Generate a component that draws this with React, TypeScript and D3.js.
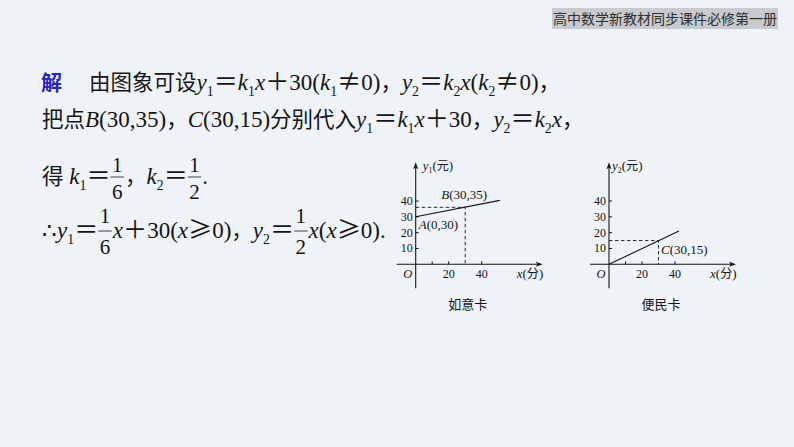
import React, { useRef, useEffect } from 'react';
import * as d3 from 'd3';

// header tag
const headerText = '高中数学新教材同步课件必修第一册';

// solution text; "_" marks a subscript, objects are stacked fractions
type Frac = { num: string; den: string };
type Piece = string | Frac;

const answerMark = '解';
const solutionLines: Piece[][] = [
  ['由图象可设y_1＝k_1x＋30(k_1≠0)，y_2＝k_2x(k_2≠0)，'],
  ['把点B(30,35)，C(30,15)分别代入y_1＝k_1x＋30，y_2＝k_2x，'],
  ['得 k_1＝', { num: '1', den: '6' }, '，k_2＝', { num: '1', den: '2' }, '.'],
  ['∴y_1＝', { num: '1', den: '6' }, 'x＋30(x≥0)，y_2＝', { num: '1', den: '2' }, 'x(x≥0).'],
];

// the two graphs
const cardNames = ['如意卡', '便民卡'];
const yAxisTitles = ['y_1(元)', 'y_2(元)'];
const xAxisTitle = 'x(分)';
const yTicks = [10, 20, 30, 40];
const xTickMarks = [10, 20, 40];
const xTickLabels = [20, 40];
const ruyiLine: [number, number][] = [[0, 30], [51, 40.4]];
const bianminLine: [number, number][] = [[0, 0], [42.4, 21]];
const ruyiGuide = { x: 30, y: 36 };
const bianminGuide = { x: 30, y: 15 };
const ruyiLabels = [
  { text: 'A(0,30)', x: 0, y: 30 },
  { text: 'B(30,35)', x: 30, y: 35 },
];
const bianminLabels = [{ text: 'C(30,15)', x: 30, y: 15 }];

const W = 794;
const H = 447;
const SERIF = '"Liberation Serif", "Times New Roman", serif';
const CJK = '"Noto Sans CJK SC", "Noto Sans", sans-serif';
const INK = '#141414';

type Kind = 'cjk' | 'op' | 'it' | 'rm' | 'sub';
type Run = { t: string; k: Kind };

// fullwidth operators as the slide typesets them
const OPS = '＝＋≠≥';

function tokenize(s: string): Run[] {
  const runs: Run[] = [];
  for (let i = 0; i < s.length; i++) {
    let ch = s[i];
    let k: Kind;
    if (ch === '_') {
      ch = s[++i];
      k = 'sub';
    } else if (OPS.includes(ch)) k = 'op';
    else if (ch.charCodeAt(0) >= 0x2e80) k = 'cjk';
    else if (/[A-Za-z]/.test(ch)) k = 'it';
    else k = 'rm';
    if (ch === ' ') ch = '\u00a0';
    const last = runs[runs.length - 1];
    if (last && last.k === k) last.t += ch;
    else runs.push({ t: ch, k });
  }
  return runs;
}

// size: latin size; cjk text scaled a bit smaller, operators a bit wider
function writeRuns(g: any, x: number, y: number, s: string, size: number, color = INK) {
  const sizes: Record<Kind, number> = {
    cjk: size * 0.935,
    op: size * 1.05,
    it: size,
    rm: size,
    sub: size * 0.6,
  };
  tokenize(s).forEach(r => {
    const t = g.append('text')
      .attr('x', x)
      .attr('y', r.k === 'sub' ? y + size * 0.24 : y)
      .attr('font-family', r.k === 'cjk' || r.k === 'op' ? CJK : SERIF)
      .attr('font-size', sizes[r.k])
      .attr('font-style', r.k === 'it' ? 'italic' : 'normal')
      .attr('fill', color)
      .text(r.t);
    x += (t.node() as SVGTextElement).getComputedTextLength();
  });
  return x;
}

function writeFrac(g: any, x: number, y: number, f: Frac, size: number, up: number, down: number) {
  const mk = (s: string, yy: number) =>
    g.append('text')
      .attr('y', yy)
      .attr('font-family', SERIF)
      .attr('font-size', size)
      .attr('text-anchor', 'middle')
      .attr('fill', INK)
      .text(s);
  const n = mk(f.num, y - up);
  const d = mk(f.den, y + down);
  const w = Math.max(n.node().getComputedTextLength(), d.node().getComputedTextLength()) + 3;
  n.attr('x', x + w / 2);
  d.attr('x', x + w / 2);
  g.append('line')
    .attr('x1', x).attr('x2', x + w)
    .attr('y1', y - 7).attr('y2', y - 7)
    .attr('stroke', INK).attr('stroke-width', 0.8);
  return x + w + 1;
}

const App: React.FC = () => {
  const svgRef = useRef<SVGSVGElement | null>(null);

  useEffect(() => {
    const svg = d3.select(svgRef.current);
    svg.selectAll('*').remove();

    svg.append('rect').attr('width', W).attr('height', H).attr('fill', '#eff3f7');

    // header tag
    svg.append('rect')
      .attr('x', 552).attr('y', 8).attr('width', 226).attr('height', 21)
      .attr('fill', '#c8cacd');
    svg.append('text')
      .attr('x', 665).attr('y', 24)
      .attr('text-anchor', 'middle')
      .attr('font-family', CJK).attr('font-size', 14)
      .attr('fill', '#2e2e2e')
      .text(headerText);

    // solution text
    const txt = svg.append('g');
    txt.append('text')
      .attr('x', 41).attr('y', 90)
      .attr('font-family', CJK).attr('font-size', 21).attr('font-weight', 'bold')
      .attr('fill', '#2424c8')
      .text(answerMark);

    const lineLayout = [
      { x: 89, y: 90, up: 12, down: 15 },
      { x: 42, y: 127, up: 12, down: 15 },
      { x: 42, y: 184, up: 12, down: 15 },
      { x: 42, y: 238, up: 15, down: 16 },
    ];
    solutionLines.forEach((pieces, i) => {
      const L = lineLayout[i];
      let x = L.x;
      pieces.forEach(p => {
        x = typeof p === 'string'
          ? writeRuns(txt, x, L.y, p, 23)
          : writeFrac(txt, x, L.y, p, 21, L.up, L.down);
      });
    });

    // graphs
    const graphs = [
      { ox: 415.7, yTitleDx: 7, line: ruyiLine, guide: ruyiGuide, labels: ruyiLabels },
      { ox: 609, yTitleDx: 3, line: bianminLine, guide: bianminGuide, labels: bianminLabels },
    ];
    const oy = 264.3;

    graphs.forEach((c, i) => {
      const g = svg.append('g');
      const x = d3.scaleLinear().domain([0, 40]).range([c.ox, c.ox + 66]);
      const y = d3.scaleLinear().domain([0, 40]).range([oy, oy - 63.3]);
      const x0 = x(0);
      const y0 = y(0);

      // axes with arrowheads
      g.append('line')
        .attr('x1', x0 - 19).attr('x2', x0 + 122)
        .attr('y1', y0).attr('y2', y0)
        .attr('stroke', INK).attr('stroke-width', 1.1);
      g.append('path')
        .attr('d', `M${x0 + 127},${y0} l-7,-2.5 l1.8,2.5 l-1.8,2.5 z`)
        .attr('fill', INK);
      g.append('line')
        .attr('x1', x0).attr('x2', x0)
        .attr('y1', y0 + 24).attr('y2', y0 - 97)
        .attr('stroke', INK).attr('stroke-width', 1.1);
      g.append('path')
        .attr('d', `M${x0},${y0 - 102} l-2.5,7 l2.5,-1.8 l2.5,1.8 z`)
        .attr('fill', INK);

      // ticks
      yTicks.forEach(v => {
        g.append('line')
          .attr('x1', x0).attr('x2', x0 + 3)
          .attr('y1', y(v)).attr('y2', y(v))
          .attr('stroke', INK).attr('stroke-width', 1);
        g.append('text')
          .attr('x', x0 - 3).attr('y', y(v) + 4)
          .attr('text-anchor', 'end')
          .attr('font-family', SERIF).attr('font-size', 12)
          .attr('fill', INK)
          .text(v);
      });
      xTickMarks.forEach(v => {
        g.append('line')
          .attr('x1', x(v)).attr('x2', x(v))
          .attr('y1', y0).attr('y2', y0 - 3)
          .attr('stroke', INK).attr('stroke-width', 1);
      });
      xTickLabels.forEach(v => {
        g.append('text')
          .attr('x', x(v)).attr('y', y0 + 14)
          .attr('text-anchor', 'middle')
          .attr('font-family', SERIF).attr('font-size', 12)
          .attr('fill', INK)
          .text(v);
      });
      g.append('text')
        .attr('x', x0 - 8).attr('y', y0 + 14)
        .attr('text-anchor', 'middle')
        .attr('font-family', SERIF).attr('font-size', 12.5).attr('font-style', 'italic')
        .attr('fill', INK)
        .text('O');

      // dashed guides
      g.append('path')
        .attr('d', `M${x0},${y(c.guide.y)}H${x(c.guide.x)}V${y0}`)
        .attr('fill', 'none')
        .attr('stroke', INK).attr('stroke-width', 0.9)
        .attr('stroke-dasharray', '3.5,2.5');

      // graph line
      const lineGen = d3.line<[number, number]>().x(d => x(d[0])).y(d => y(d[1]));
      g.append('path')
        .attr('d', lineGen(c.line))
        .attr('fill', 'none')
        .attr('stroke', INK).attr('stroke-width', 1.1);

      // point labels
      c.labels.forEach(l => {
        const name = l.text[0];
        const dx = name === 'A' ? 3 : name === 'B' ? -24 : 2.5;
        const dy = name === 'A' ? 12 : name === 'B' ? -10 : 13.3;
        writeRuns(g, x(l.x) + dx, y(l.y) + dy, l.text, 13);
      });

      // axis titles
      writeRuns(g, x0 + c.yTitleDx, y0 - 94, yAxisTitles[i], 13);
      writeRuns(g, x0 + 101, y0 + 14, xAxisTitle, 13);

      // caption
      g.append('text')
        .attr('x', x0 + 52).attr('y', y0 + 45)
        .attr('text-anchor', 'middle')
        .attr('font-family', CJK).attr('font-size', 13)
        .attr('fill', INK)
        .text(cardNames[i]);
    });
  }, []);

  return (
    <svg
      ref={svgRef}
      width={W}
      height={H}
      style={{ position: 'absolute', left: 0, top: 0, display: 'block' }}
    />
  );
};

export default App;
